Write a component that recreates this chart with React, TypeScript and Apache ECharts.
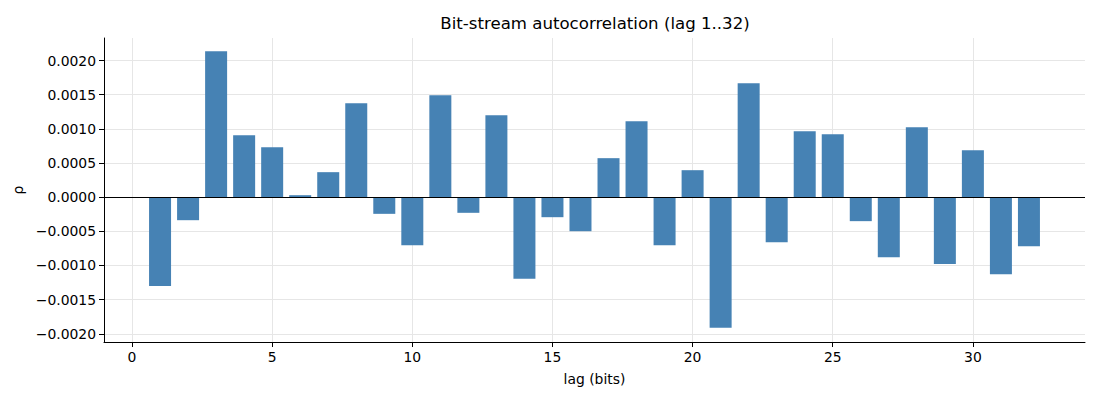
import React, { useEffect, useRef } from "react";
import * as echarts from "echarts";

const lags = [
  1, 2, 3, 4, 5, 6, 7, 8, 9, 10, 11, 12, 13, 14, 15, 16,
  17, 18, 19, 20, 21, 22, 23, 24, 25, 26, 27, 28, 29, 30, 31, 32,
];
const rho = [
  -0.0013, -0.000337, 0.002137, 0.000907, 0.000732, 0.000029, 0.000366, 0.001376,
  -0.000244, -0.000702, 0.001493, -0.000229, 0.0012, -0.001195, -0.000293, -0.000498,
  0.000571, 0.001112, -0.000702, 0.000395, -0.001912, 0.001668, -0.000659, 0.000966,
  0.000922, -0.000351, -0.000878, 0.001024, -0.00098, 0.000688, -0.001127, -0.000717,
];
const xTicks = [0, 5, 10, 15, 20, 25, 30];
const yTicks = [-0.002, -0.0015, -0.001, -0.0005, 0, 0.0005, 0.001, 0.0015, 0.002];

const FONT = "DejaVu Sans";

export default function App() {
  const ref = useRef<HTMLDivElement>(null);
  useEffect(() => {
    document.body.style.margin = "0";
    if (!ref.current) return;
    const chart = echarts.init(ref.current, undefined, { renderer: "svg" });
    const fmtY = (v: number) => {
      const s = Math.abs(v).toFixed(4);
      return v < -1e-12 ? "\u2212" + s : s;
    };
    chart.setOption({
      animation: false,
      backgroundColor: "#ffffff",
      title: {
        text: "Bit-stream autocorrelation (lag 1..32)",
        left: 590,
        textAlign: "center",
        top: 10,
        textStyle: { fontFamily: FONT, fontSize: 16.6, fontWeight: "normal", color: "#000" },
      },
      grid: { left: 104, right: 15, top: 38, bottom: 58, containLabel: false },
      xAxis: {
        type: "value",
        min: -1,
        max: 34,
        name: "lag (bits)",
        nameLocation: "middle",
        nameGap: 30,
        nameTextStyle: { fontFamily: FONT, fontSize: 13.9, color: "#000" },
        axisLine: { show: true, onZero: false, lineStyle: { color: "#000", width: 1 } },
        axisTick: { show: true, length: 5, lineStyle: { color: "#000" }, customValues: xTicks },
        axisLabel: {
          fontFamily: FONT,
          fontSize: 13.9,
          color: "#000",
          margin: 8,
          customValues: xTicks,
          formatter: (v: number) => String(v),
        },
        splitLine: { show: true, lineStyle: { color: "#e6e6e6", width: 1 } },
      },
      yAxis: {
        type: "value",
        min: -0.00212,
        max: 0.00233,
        name: "\u03c1",
        nameLocation: "middle",
        nameGap: 76,
        nameRotate: 90,
        nameTextStyle: { fontFamily: FONT, fontSize: 13.9, color: "#000" },
        axisLine: { show: true, onZero: false, lineStyle: { color: "#000", width: 1 } },
        axisTick: { show: true, length: 5, lineStyle: { color: "#000" }, customValues: yTicks },
        axisLabel: {
          fontFamily: FONT,
          fontSize: 13.9,
          color: "#000",
          margin: 8,
          customValues: yTicks,
          formatter: fmtY,
        },
        splitLine: { show: true, lineStyle: { color: "#e6e6e6", width: 1 } },
      },
      series: [
        {
          type: "bar",
          data: lags.map((l, i) => [l, rho[i]]),
          barWidth: 22,
          itemStyle: { color: "#4682b4" },
          markLine: {
            silent: true,
            symbol: "none",
            label: { show: false },
            lineStyle: { color: "#000", width: 1, type: "solid" },
            data: [{ yAxis: 0 }],
          },
        },
      ],
    });
    return () => chart.dispose();
  }, []);
  return <div ref={ref} style={{ width: 1100, height: 400 }} />;
}
